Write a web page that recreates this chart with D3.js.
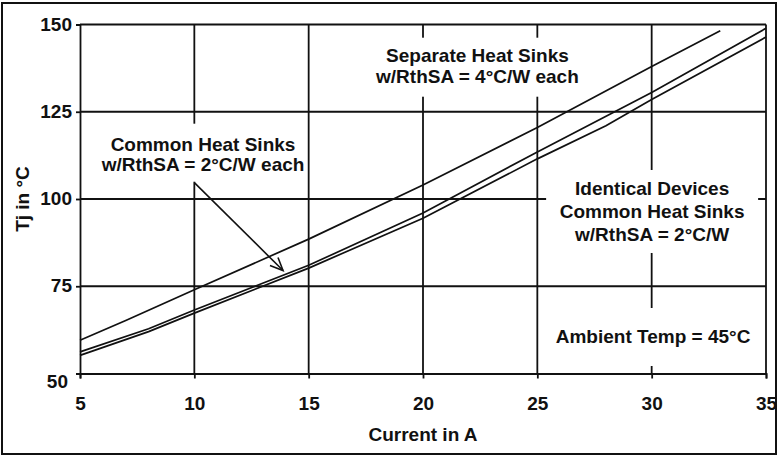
<!DOCTYPE html>
<html>
<head>
<meta charset="utf-8">
<script src="https://cdn.jsdelivr.net/npm/d3@7/dist/d3.min.js"></script>
<style>
html,body{margin:0;padding:0;background:#fff;}
svg{display:block;}
text{font-family:"Liberation Sans",Arial,Helvetica,sans-serif;font-weight:bold;fill:#111;}
</style>
</head>
<body>
<svg id="chart" width="779" height="456"></svg>
<script>
// ---- data ----
const xTicks = [5, 10, 15, 20, 25, 30, 35];
const yTicks = [50, 75, 100, 125, 150];

const separateI = [5, 7, 10, 15, 20, 25, 30, 33];
const separateT = [59.5, 65.2, 74, 88.5, 104, 120.5, 138, 148.2];

const commonEachI = [5, 8, 10, 15, 20, 25, 30, 35];
const commonEachT = [56.2, 62.8, 68.2, 81, 96, 113.5, 130.5, 148.9];

const identicalI = [5, 8, 10, 15, 20, 25, 28, 30, 35];
const identicalT = [55.2, 62, 67.3, 80.2, 94.5, 111.5, 121, 128.5, 146.4];

const xTitle = "Current in A";
const yTitle = "Tj in °C";

const labelCommon = ["Common Heat Sinks", "w/RthSA = 2°C/W each"];
const labelSeparate = ["Separate Heat Sinks", "w/RthSA = 4°C/W each"];
const labelIdentical = ["Identical Devices", "Common Heat Sinks", "w/RthSA = 2°C/W"];
const labelAmbient = ["Ambient Temp = 45°C"];

// arrow annotation (data coords): from -> to
const arrowFrom = [10, 104.7];
const arrowTo = [13.88, 79.5];

// ---- drawing ----
const svg = d3.select("#chart");
const x = d3.scaleLinear().domain([5, 35]).range([80, 766]);
const y = d3.scaleLinear().domain([50, 150]).range([373.5, 24.5]);
const FS = 19;
const ink = "#111";

// outer frame
svg.append("rect").attr("x", 2).attr("y", 3).attr("width", 774).attr("height", 451)
  .attr("fill", "none").attr("stroke", ink).attr("stroke-width", 2);

const grid = svg.append("g").attr("stroke", ink).attr("stroke-width", 1.8).attr("fill", "none");
// horizontal gridlines
grid.selectAll("line.h").data(yTicks.filter(d => d > 50)).join("line")
  .attr("class", "h").attr("x1", x(5)).attr("x2", x(35)).attr("y1", d => y(d)).attr("y2", d => y(d));
// vertical gridlines
grid.selectAll("line.v").data(xTicks.filter(d => d > 5)).join("line")
  .attr("class", "v").attr("y1", y(50)).attr("y2", y(150)).attr("x1", d => x(d)).attr("x2", d => x(d));

// axes
const xAxis = d3.axisBottom(x).tickValues(xTicks).tickSize(5).tickPadding(18).tickFormat(d3.format("d"));
const yAxis = d3.axisLeft(y).tickValues(yTicks).tickSize(4).tickPadding(4).tickFormat(d3.format("d"));

const gx = svg.append("g").attr("transform", `translate(0,${y(50)})`).call(xAxis);
const gy = svg.append("g").attr("transform", `translate(${x(5)},0)`).call(yAxis);
[gx, gy].forEach(g => {
  g.select(".domain").attr("stroke", ink).attr("stroke-width", 1.8);
  g.selectAll(".tick line").attr("stroke", ink).attr("stroke-width", 1.8);
  g.selectAll(".tick text").attr("fill", ink).style("font-size", FS + "px")
    .style("font-family", '"Liberation Sans",Arial,sans-serif').style("font-weight", "bold");
});
gx.selectAll(".tick text").attr("dy", "0.71em");
gy.selectAll(".tick text").attr("dy", "0.3em");
gy.selectAll(".tick text").filter(d => d === 50).attr("dy", "0.75em").attr("x", -12);

// axis titles
svg.append("text").attr("x", (x(5) + x(35)) / 2).attr("y", 441).attr("text-anchor", "middle")
  .style("font-size", FS + "px").text(xTitle);
svg.append("text").attr("transform", `translate(29,${(y(50) + y(150)) / 2}) rotate(-90)`)
  .attr("text-anchor", "middle").style("font-size", FS + "px").text(yTitle);

// labels with white backgrounds
function label(lines, cxData, baseData, spacing, box) {
  const cx = x(cxData), by = y(baseData);
  svg.append("rect").attr("x", cx + box[0]).attr("y", by + box[1])
    .attr("width", box[2] - box[0]).attr("height", box[3] - box[1]).attr("fill", "#fff");
  const t = svg.append("text").attr("text-anchor", "middle").style("font-size", FS + "px");
  lines.forEach((s, i) => t.append("tspan").attr("x", cx).attr("y", by + i * spacing).text(s));
}
label(labelCommon, 10.38, 113.84, 20, [-103, -27, 103, 31]);
label(labelSeparate, 22.38, 139.34, 21.6, [-105, -24, 105, 35]);
label(labelIdentical, 30.02, 101.15, 22.8, [-106, -25, 106, 58]);
label(labelAmbient, 30.06, 58.74, 0, [-101, -35, 101, 23]);

// curves
const line = d3.line().x(d => x(d[0])).y(d => y(d[1]));
const series = [
  d3.zip(separateI, separateT),
  d3.zip(commonEachI, commonEachT),
  d3.zip(identicalI, identicalT)
];
svg.append("g").selectAll("path").data(series).join("path")
  .attr("d", line).attr("fill", "none").attr("stroke", ink).attr("stroke-width", 1.7);

// arrow
const ax0 = x(arrowFrom[0]), ay0 = y(arrowFrom[1]), ax1 = x(arrowTo[0]), ay1 = y(arrowTo[1]);
const ang = Math.atan2(ay0 - ay1, ax0 - ax1);
const hl = 14, spread = 0.42;
const h1 = [ax1 + hl * Math.cos(ang + spread), ay1 + hl * Math.sin(ang + spread)];
const h2 = [ax1 + hl * Math.cos(ang - spread), ay1 + hl * Math.sin(ang - spread)];
const ag = svg.append("g").attr("stroke", ink).attr("stroke-width", 1.6).attr("fill", "none");
ag.append("line").attr("x1", ax0).attr("y1", ay0).attr("x2", ax1).attr("y2", ay1);
ag.append("path").attr("d", `M${h1[0]},${h1[1]}L${ax1},${ay1}L${h2[0]},${h2[1]}`);
</script>
</body>
</html>
